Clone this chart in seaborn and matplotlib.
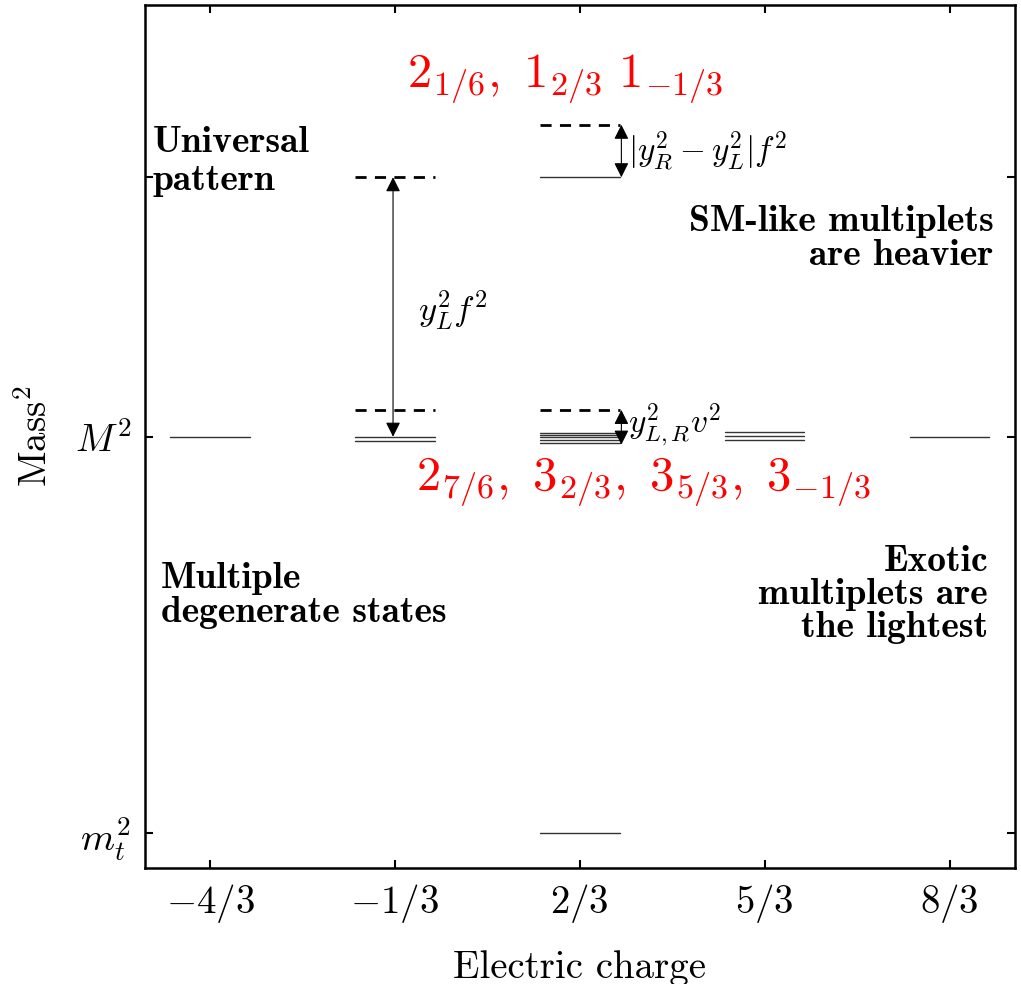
import matplotlib
matplotlib.use("Agg")
import matplotlib.pyplot as plt
import pandas as pd
import numpy as np
import seaborn as sns

# charges on the x axis
charges = [-4/3, -1/3, 2/3, 5/3, 8/3]
charge_labels = [r'$-4/3$', r'$-1/3$', r'$2/3$', r'$5/3$', r'$8/3$']

# mass^2 levels (arbitrary units)
M2 = 5.0
mt2 = 1.0
upper = 7.62
top_dash = 8.15
mid_dash = 5.27
y_ticks = [mt2, M2, upper]
y_tick_labels = [r'$m_t^2$', r'$M^2$', '']

# solid levels: charge, mass^2
solid_charge = [-4/3, -1/3, -1/3, 2/3, 2/3, 2/3, 2/3, 2/3, 2/3, 2/3, 5/3, 5/3, 5/3, 8/3]
solid_mass = [5.0, 5.0, 4.96, 7.62, 5.04, 5.02, 5.0, 4.97, 4.94, 1.0, 5.05, 5.01, 4.965, 5.0]

# dashed levels
dash_charge = [-1/3, -1/3, 2/3, 2/3]
dash_mass = [upper, mid_dash, top_dash, mid_dash]

HALF = 0.215

sns.set_style("ticks")
plt.rcParams['font.family'] = 'cmr10'
plt.rcParams['mathtext.fontset'] = 'cm'
plt.rcParams['axes.formatter.use_mathtext'] = True
plt.rcParams['axes.unicode_minus'] = False
for k in ['text.color', 'axes.labelcolor', 'axes.edgecolor', 'xtick.color', 'ytick.color']:
    plt.rcParams[k] = 'black'

fig = plt.figure(figsize=(10.21, 9.84), dpi=100)
ax = fig.add_axes([0.142, 0.118, 0.852, 0.877])

# build long table of segments for seaborn
rows = []
for i, (c, m) in enumerate(zip(solid_charge, solid_mass)):
    rows.append(dict(seg=i, x=c - HALF, y=m))
    rows.append(dict(seg=i, x=c + HALF, y=m))
solid_df = pd.DataFrame(rows)
sns.lineplot(data=solid_df, x='x', y='y', units='seg', estimator=None,
             color='#333333', lw=1.0, ax=ax, legend=False)

rows = []
for i, (c, m) in enumerate(zip(dash_charge, dash_mass)):
    rows.append(dict(seg=i, x=c - HALF, y=m))
    rows.append(dict(seg=i, x=c + HALF, y=m))
dash_df = pd.DataFrame(rows)
sns.lineplot(data=dash_df, x='x', y='y', units='seg', estimator=None,
             color='black', lw=2.0, ax=ax, legend=False)
for l in ax.lines[-len(dash_charge):]:
    l.set_dashes([4, 3])

# arrows
arr = dict(arrowstyle='<|-|>', color='black', lw=0.8, mutation_scale=22, shrinkA=0, shrinkB=0)
ax.annotate('', xy=(-1/3 - 0.01, upper), xytext=(-1/3 - 0.01, M2), arrowprops=arr)
ax.annotate('', xy=(2/3 + HALF + 0.01, top_dash), xytext=(2/3 + HALF + 0.01, upper), arrowprops=arr)
ax.annotate('', xy=(2/3 + HALF + 0.01, mid_dash), xytext=(2/3 + HALF + 0.01, 4.92), arrowprops=arr)

ax.text(-0.21, 6.28, r'$y_L^2 f^2$', fontsize=25, va='center', ha='left')
ax.text(0.93, 7.88, r'$|y_R^2 - y_L^2| f^2$', fontsize=24, va='center', ha='left')
ax.text(0.93, 5.12, r'$y_{L,R}^2 v^2$', fontsize=24, va='center', ha='left')

# multiplet labels
ax.text(0.585, 8.62, r'$2_{1/6},\ 1_{2/3}\ 1_{-1/3}$', fontsize=35, color='red', ha='center', va='center')
ax.text(1.013, 4.55, r'$2_{7/6},\ 3_{2/3},\ 3_{5/3},\ 3_{-1/3}$', fontsize=35, color='red', ha='center', va='center')

# descriptive notes
bold = dict(family='cmb10', fontsize=27)
ax.text(-1.645, 7.78, 'Universal\npattern', ha='left', va='center', linespacing=1.2, **bold)
ax.text(2.905, 7.0, 'SM-like multiplets\nare heavier', ha='right', va='center', linespacing=1.05, **bold)
ax.text(-1.6, 3.40, 'Multiple\ndegenerate states', ha='left', va='center', linespacing=1.05, **bold)
ax.text(2.875, 3.41, 'Exotic\nmultiplets are\nthe lightest', ha='right', va='center', linespacing=1.0, **bold)

ax.set_xlim(-1.685, 3.02)
ax.set_ylim(0.646, 9.36)
ax.set_xticks(charges)
ax.set_xticklabels(charge_labels)
ax.set_yticks(y_ticks)
ax.set_yticklabels(y_tick_labels)
ax.tick_params(direction='in', top=True, right=True, length=6, width=1.5, labelsize=28, pad=10)
for s in ax.spines.values():
    s.set_linewidth(1.8)
    s.set_visible(True)

ax.set_xlabel('Electric charge', fontsize=28, labelpad=18)
ax.set_ylabel(r'Mass$^2$', fontsize=28, labelpad=14)

fig.savefig('out.png', dpi=100)
